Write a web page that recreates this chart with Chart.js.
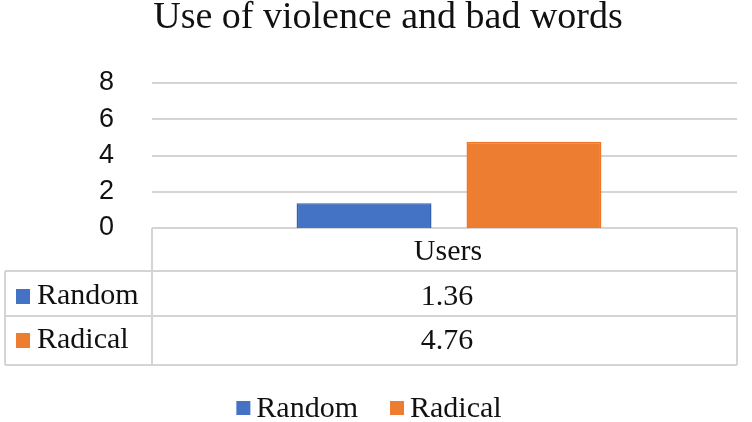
<!DOCTYPE html>
<html><head><meta charset="utf-8">
<script src="https://cdn.jsdelivr.net/npm/chart.js@4.4.1/dist/chart.umd.min.js"></script>
<style>html,body{margin:0;padding:0;background:#fff;}#wrap{width:752px;height:422px;}</style>
</head><body><div id="wrap"><canvas id="c" width="752" height="422"></canvas></div>
<script>
const categories = ['Users'];
const seriesNames = ['Random', 'Radical'];
const randomValues = [1.36];
const radicalValues = [4.76];
const yTicks = [0, 2, 4, 6, 8];
const titleText = 'Use of violence and bad words';

const colors = ['#4472c4', '#ed7d31'];
const borders = ['#2f5fb3', '#f0772a'];
const serif = '"Liberation Serif", "Times New Roman", serif';
const sans = '"Liberation Sans", Arial, sans-serif';
const lineColor = '#d4d4d4';
const GRID_LEFT = 152;

const gridPlugin = {
  id: 'gridPlugin',
  beforeDatasetsDraw(chart) {
    const ctx = chart.ctx, ca = chart.chartArea, ys = chart.scales.y;
    ctx.save();
    ctx.strokeStyle = lineColor;
    ctx.lineWidth = 2;
    ctx.beginPath();
    yTicks.forEach(v => {
      const y = Math.round(ys.getPixelForValue(v));
      ctx.moveTo(GRID_LEFT, y); ctx.lineTo(ca.right, y);
    });
    ctx.stroke();
    ctx.restore();
  }
};

const tablePlugin = {
  id: 'tablePlugin',
  afterDraw(chart) {
    const ctx = chart.ctx;
    const ca = chart.chartArea;
    const xs = chart.scales.x;
    const left = 5, divX = GRID_LEFT, right = ca.right;
    const top = Math.round(ca.bottom);
    const r1 = top + 43, r2 = r1 + 45, r3 = r2 + 49;
    ctx.save();

    // title
    ctx.fillStyle = '#111';
    ctx.textAlign = 'center';
    ctx.textBaseline = 'alphabetic';
    ctx.font = '38px ' + serif;
    ctx.fillText(titleText, 388, 28);

    ctx.strokeStyle = lineColor;
    ctx.lineWidth = 2;
    ctx.beginPath();
    ctx.moveTo(divX, top); ctx.lineTo(divX, r3);
    ctx.moveTo(right, top); ctx.lineTo(right, r3);
    ctx.moveTo(left, r1); ctx.lineTo(right, r1);
    ctx.moveTo(left, r2); ctx.lineTo(right, r2);
    ctx.moveTo(left, r3); ctx.lineTo(right, r3);
    ctx.moveTo(left, r1); ctx.lineTo(left, r3);
    ctx.stroke();

    ctx.fillStyle = '#111';
    ctx.textAlign = 'center';
    ctx.font = '30px ' + serif;
    categories.forEach((c, i) => {
      const cx = xs.getPixelForValue(i);
      ctx.fillText(c, cx - 1, top + 32);
    });
    const series = [randomValues, radicalValues];
    const baselines = [r1 + 33, r2 + 32];
    series.forEach((vals, si) => {
      const base = baselines[si];
      ctx.fillStyle = colors[si];
      ctx.fillRect(16, base - 15, 14, 15);
      ctx.fillStyle = '#111';
      ctx.textAlign = 'left';
      ctx.fillText(seriesNames[si], 37, base);
      ctx.textAlign = 'center';
      vals.forEach((v, i) => {
        const cx = xs.getPixelForValue(i);
        ctx.fillText(v.toFixed(2), cx - 2, base + 1);
      });
    });

    // legend
    const sq = 14, gap = 6, itemGap = 32;
    const widths = seriesNames.map(n => ctx.measureText(n).width);
    const total = widths.reduce((a, w) => a + sq + gap + w, 0) + itemGap * (seriesNames.length - 1);
    let x = 369 - total / 2;
    const base = 417;
    seriesNames.forEach((n, i) => {
      ctx.fillStyle = colors[i];
      ctx.fillRect(x, base - 16, sq, sq);
      ctx.fillStyle = '#111';
      ctx.textAlign = 'left';
      ctx.fillText(n, x + sq + gap, base);
      x += sq + gap + widths[i] + itemGap;
    });
    ctx.restore();
  }
};

new Chart(document.getElementById('c'), {
  type: 'bar',
  data: {
    labels: categories,
    datasets: [
      { label: seriesNames[0], data: randomValues, backgroundColor: colors[0], borderColor: borders[0], borderWidth: 1.5 },
      { label: seriesNames[1], data: radicalValues, backgroundColor: colors[1], borderColor: borders[1], borderWidth: 1.5 }
    ]
  },
  options: {
    responsive: false,
    animation: false,
    devicePixelRatio: 1,
    categoryPercentage: 0.59,
    barPercentage: 0.794,
    layout: { padding: { left: 0, right: 15, top: 83, bottom: 194 } },
    plugins: {
      legend: { display: false },
      tooltip: { enabled: false },
      title: { display: false }
    },
    scales: {
      x: { display: false },
      y: {
        min: 0, max: 8,
        afterBuildTicks(s) { s.ticks = yTicks.map(v => ({ value: v })); },
        afterFit(s) { s.width = 161; },
        border: { display: false },
        grid: { display: false },
        ticks: { color: '#111', font: { family: sans, size: 27 }, padding: 39 }
      }
    }
  },
  plugins: [gridPlugin, tablePlugin]
});
</script></body></html>
